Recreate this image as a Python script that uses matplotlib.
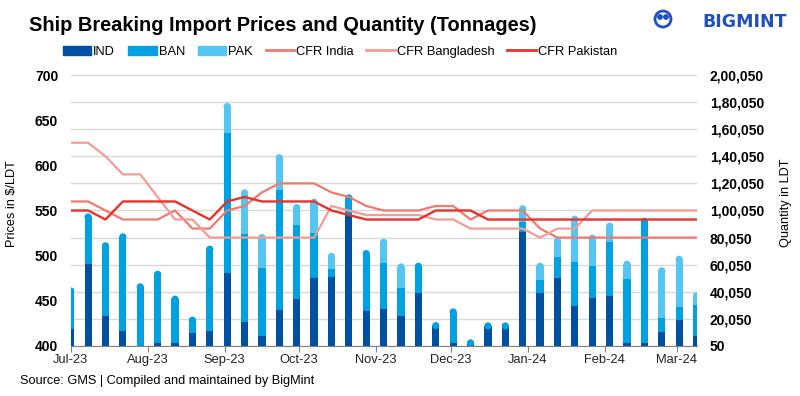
import numpy as np
import pandas as pd
import matplotlib
matplotlib.use("Agg")
import matplotlib.pyplot as plt
import matplotlib.dates as mdates
from matplotlib.patches import Patch, Circle, Ellipse
from matplotlib.lines import Line2D

plt.rcParams['font.family'] = ['Liberation Sans', 'DejaVu Sans']

# weekly data, Jul-23 to Mar-24
weeks = pd.date_range('2023-07-01', periods=37, freq='7D')

ind = [12300, 60500, 22400, 10900, 0, 2000, 2000, 9400, 10900, 54100, 18000,
       7600, 26600, 34500, 50000, 50700, 97200, 25900, 27100, 22400, 38900, 14800,
       2000, 2000, 14300, 14300, 84400, 38900, 50000, 29600, 35700, 37000,
       2300, 2000, 10600, 19200, 7400]
ban = [31000, 37400, 54200, 72300, 46300, 53600, 35200, 12300, 63200, 102900, 64500,
       50200, 88600, 54800, 33700, 6100, 14800, 45000, 33900, 20200, 22600, 2900,
       25800, 3000, 3200, 3200, 7400, 9800, 15900, 32700, 23400, 40100,
       47400, 92700, 9900, 9800, 22900]
pak = [0, 0, 0, 0, 0, 0, 0, 0, 0, 22400, 33200,
       24900, 26400, 15500, 25100, 12000, 0, 0, 18200, 18400, 0, 0,
       0, 0, 0, 0, 12100, 12800, 14300, 33900, 23100, 14000,
       13300, 0, 37600, 37600, 9400]

cfr_india = [560, 560, 550, 540, 540, 540, 550, 530, 530, 550,
             555, 570, 580, 580, 580, 570, 565, 555, 550, 550,
             550, 555, 555, 540, 550, 550, 550, 530, 520, 520,
             520, 520, 520, 520, 520, 520, 520]
cfr_bangladesh = [625, 625, 610, 590, 590, 565, 540, 540, 520, 520,
                  520, 520, 520, 520, 520, 555, 550, 545, 545, 545,
                  545, 540, 540, 530, 530, 530, 530, 520, 530, 530,
                  550, 550, 550, 550, 550, 550, 550]
cfr_pakistan = [550, 550, 540, 560, 560, 560, 560, 550, 540, 560,
                565, 560, 560, 560, 560, 550, 545, 540, 540, 540,
                540, 550, 550, 550, 540, 540, 540, 540, 540, 540,
                540, 540, 540, 540, 540, 540, 540]

price_ticks = list(range(400, 701, 50))
qty_ticks = list(range(50, 200051, 20000))

c_ind, c_ban, c_pak = '#0050A2', '#00A1E0', '#55C5F2'
c_india, c_bang, c_pakl = '#F07A70', '#F49C94', '#E8322C'
logo_blue = '#1E50C0'


def indian(v):
    s = str(int(round(v)))
    if len(s) <= 3:
        return s
    head, tail = s[:-3], s[-3:]
    parts = []
    while len(head) > 2:
        parts.insert(0, head[-2:])
        head = head[:-2]
    if head:
        parts.insert(0, head)
    return ','.join(parts + [tail])


fig = plt.figure(figsize=(8, 3.96), dpi=100)
ax = fig.add_axes([0.0884, 0.1263, 0.7832, 0.6843])
axp = ax.twinx()

ind = np.array(ind, dtype=float)
ban = np.array(ban, dtype=float)
pak = np.array(pak, dtype=float)
top = ind + ban + pak

# rounded top: shorten the uppermost segment and put a half-ellipse cap on it
w = 2.9
r = 2600  # cap radius in LDT (~3.5 px)
ind_h = np.where((ban == 0) & (pak == 0), ind - r, ind)
ban_h = np.where((pak == 0) & (ban > 0), ban - r, ban)
pak_h = np.where(pak > 0, pak - r, pak)

ax.bar(weeks, ind_h, w, color=c_ind)
ax.bar(weeks, ban_h, w, bottom=ind, color=c_ban)
ax.bar(weeks, pak_h, w, bottom=ind + ban, color=c_pak)

xnum = mdates.date2num(weeks)
for x, t, i, b, p in zip(xnum, top, ind, ban, pak):
    col = c_pak if p > 0 else (c_ban if b > 0 else c_ind)
    ax.add_patch(Ellipse((x, t - r), w, 2 * r, color=col, lw=0))

# price lines on top
axp.plot(weeks, cfr_india, color=c_india, lw=1.6)
axp.plot(weeks, cfr_bangladesh, color=c_bang, lw=1.6)
axp.plot(weeks, cfr_pakistan, color=c_pakl, lw=1.7)

ax.set_xlim(weeks[0], weeks[-1] + pd.Timedelta(hours=7))
ax.xaxis.set_major_locator(mdates.MonthLocator())
ax.xaxis.set_major_formatter(mdates.DateFormatter('%b-%y'))
ax.tick_params(axis='x', length=4, color='#808080', labelsize=9.3, pad=2,
               labelcolor='#222222')

ax.set_ylim(50, 200050)
ax.set_yticks(qty_ticks, [indian(v) for v in qty_ticks], fontweight='bold', fontsize=10)
ax.yaxis.tick_right()
ax.tick_params(axis='y', length=0, pad=9)
ax.grid(axis='y', color='#D9D9D9', lw=1)
ax.set_axisbelow(True)

axp.set_ylim(400, 700)
axp.set_yticks(price_ticks, [str(v) for v in price_ticks], fontweight='bold', fontsize=10)
axp.yaxis.tick_left()
axp.tick_params(axis='y', length=0, pad=9)

for s in ['top', 'left', 'right']:
    ax.spines[s].set_visible(False)
ax.spines['bottom'].set_color('#808080')
for s in axp.spines.values():
    s.set_visible(False)

fig.text(12 / 800, 0.487, 'Prices in $/LDT', rotation=90, ha='center', va='center', fontsize=9.2)
fig.text(786 / 800, 0.487, 'Quantity in LDT', rotation=90, ha='center', va='center', fontsize=9.2)

fig.text(29 / 800, 1 - 31 / 396, 'Ship Breaking Import Prices and Quantity (Tonnages)',
         fontsize=14.4, fontweight='bold', va='baseline', ha='left')
fig.text(20 / 800, 1 - 381 / 396, 'Source: GMS | Compiled and maintained by BigMint',
         fontsize=9.2, va='center', ha='left')

handles = [Patch(color=c_ind), Patch(color=c_ban), Patch(color=c_pak),
           Line2D([], [], color=c_india, lw=2), Line2D([], [], color=c_bang, lw=2),
           Line2D([], [], color=c_pakl, lw=2)]
labels = ['IND', 'BAN', 'PAK', 'CFR India', 'CFR Bangladesh', 'CFR Pakistan']
fig.legend(handles, labels, loc='center left', bbox_to_anchor=(63 / 800, 1 - 52 / 396),
           ncol=6, frameon=False, fontsize=9.3, handlelength=2.2, handleheight=0.75,
           handletextpad=0.15, columnspacing=1.0, borderaxespad=0, borderpad=0)

# logo
fig.patches.append(Circle((6.63, 3.96 - 0.19), 0.08, transform=fig.dpi_scale_trans,
                          fill=False, lw=2, color=logo_blue))
fig.patches.append(Circle((6.60, 3.96 - 0.17), 0.022, transform=fig.dpi_scale_trans,
                          color=logo_blue))
fig.patches.append(Circle((6.66, 3.96 - 0.17), 0.022, transform=fig.dpi_scale_trans,
                          color=logo_blue))
fig.text(787 / 800, 1 - 27 / 396, 'BIGMINT', fontsize=12.5, fontweight='bold',
         color=logo_blue, family='DejaVu Sans', ha='right', va='baseline')

fig.savefig('out.png', dpi=100)
